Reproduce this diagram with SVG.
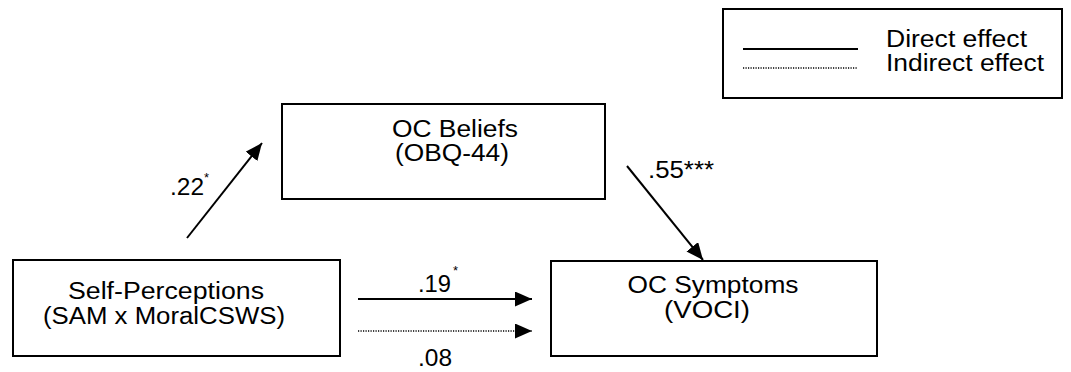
<svg xmlns="http://www.w3.org/2000/svg" width="1071" height="372" viewBox="0 0 1071 372">
<style>
.box{fill:#fff;stroke:#000;stroke-width:2}
.t{font-family:"Liberation Sans",Arial,sans-serif;font-size:23.5px;fill:#000}
.c{text-anchor:middle}
.sup{font-family:"Liberation Sans",Arial,sans-serif;font-size:13px;fill:#000}
.solid{stroke:#000;stroke-width:2;fill:none}
.dot{stroke:#000;stroke-width:1.4;stroke-dasharray:1.2 1.3;fill:none}
</style>
<defs>
<marker id="ah" markerUnits="userSpaceOnUse" markerWidth="17" markerHeight="15" refX="17" refY="7.5" orient="auto">
<path d="M0,0 L17,7.5 L0,15 Z" fill="#000"/>
</marker>
</defs>
<rect width="1071" height="372" fill="#fff"/>
<g id="legend">
<rect class="box" x="723" y="9" width="339" height="89"/>
<line class="solid" x1="743" y1="49" x2="858" y2="49"/>
<line class="dot" x1="743" y1="68" x2="858" y2="68"/>
<text class="t" x="886" y="47" textLength="141" lengthAdjust="spacingAndGlyphs">Direct effect</text>
<text class="t" x="886" y="71" textLength="158" lengthAdjust="spacingAndGlyphs">Indirect effect</text>
</g>
<g id="oc-beliefs">
<rect class="box" x="282" y="104" width="323" height="95"/>
<text class="t c" x="455" y="137" textLength="126" lengthAdjust="spacingAndGlyphs">OC Beliefs</text>
<text class="t c" x="452" y="161" textLength="114" lengthAdjust="spacingAndGlyphs">(OBQ-44)</text>
</g>
<g id="self-perceptions">
<rect class="box" x="13" y="260" width="327" height="96"/>
<text class="t c" x="166" y="299" textLength="196" lengthAdjust="spacingAndGlyphs">Self-Perceptions</text>
<text class="t c" x="164" y="324" textLength="242" lengthAdjust="spacingAndGlyphs">(SAM x MoralCSWS)</text>
</g>
<g id="oc-symptoms">
<rect class="box" x="551" y="261" width="326" height="95"/>
<text class="t c" x="713" y="293" textLength="171" lengthAdjust="spacingAndGlyphs">OC Symptoms</text>
<text class="t c" x="707" y="318" textLength="86" lengthAdjust="spacingAndGlyphs">(VOCI)</text>
</g>
<g id="connectors">
<line class="solid" x1="187" y1="238" x2="262" y2="143" marker-end="url(#ah)"/>
<line class="solid" x1="627" y1="166" x2="703" y2="260" marker-end="url(#ah)"/>
<line class="solid" x1="358" y1="299" x2="532" y2="299" marker-end="url(#ah)"/>
<line class="dot" x1="358" y1="331" x2="532" y2="331" marker-end="url(#ah)"/>
<text class="t" x="170" y="195" textLength="34" lengthAdjust="spacingAndGlyphs">.22</text>
<text class="sup" x="204" y="182">*</text>
<text class="t" x="648" y="178" textLength="66" lengthAdjust="spacingAndGlyphs">.55***</text>
<text class="t" x="418" y="292" textLength="33" lengthAdjust="spacingAndGlyphs">.19</text>
<text class="sup" x="453" y="275">*</text>
<text class="t" x="418" y="366" textLength="34" lengthAdjust="spacingAndGlyphs">.08</text>
</g>
</svg>
